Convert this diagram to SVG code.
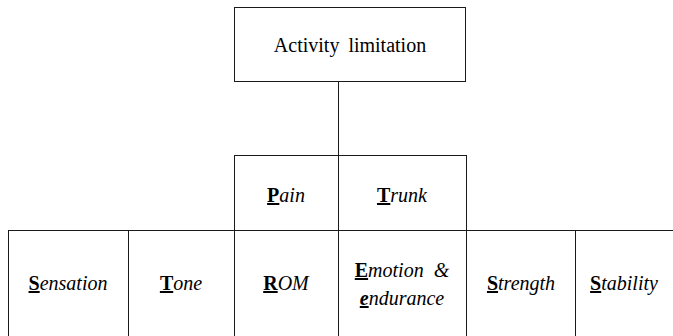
<svg xmlns="http://www.w3.org/2000/svg" width="673" height="336" viewBox="0 0 673 336">
<style>
rect{fill:#fff;stroke:#1a1a1a;stroke-width:1}
.c{stroke:#1a1a1a;stroke-width:1;fill:none}
</style>
<rect x="0" y="0" width="673" height="336" style="stroke:none;fill:#fff"/>
<g id="connectors">
<line class="c" x1="338.5" y1="81" x2="338.5" y2="155"/>
</g>
<g id="activity-limitation">
<rect x="234.5" y="7.5" width="231" height="74"/>
<text x="350" y="52" font-size="20" font-family="Liberation Serif" text-anchor="middle" word-spacing="4">Activity limitation</text>
</g>
<g id="pain">
<rect x="234.5" y="155.5" width="104" height="75"/>
<text x="286" y="202" font-size="20" font-family="Liberation Serif" text-anchor="middle"><tspan font-weight="bold" text-decoration="underline">P</tspan><tspan font-style="italic">ain</tspan></text>
</g>
<g id="trunk">
<rect x="338.5" y="155.5" width="128" height="75"/>
<text x="402" y="202" font-size="20" font-family="Liberation Serif" text-anchor="middle"><tspan font-weight="bold" text-decoration="underline">T</tspan><tspan font-style="italic">runk</tspan></text>
</g>
<g id="sensation">
<rect x="8.5" y="230.5" width="120" height="120"/>
<text x="68" y="290" font-size="20" font-family="Liberation Serif" text-anchor="middle"><tspan font-weight="bold" text-decoration="underline">S</tspan><tspan font-style="italic">ensation</tspan></text>
</g>
<g id="tone">
<rect x="128.5" y="230.5" width="106" height="120"/>
<text x="181" y="290" font-size="20" font-family="Liberation Serif" text-anchor="middle"><tspan font-weight="bold" text-decoration="underline">T</tspan><tspan font-style="italic">one</tspan></text>
</g>
<g id="rom">
<rect x="234.5" y="230.5" width="104" height="120"/>
<text x="286" y="290" font-size="20" font-family="Liberation Serif" text-anchor="middle"><tspan font-weight="bold" text-decoration="underline">R</tspan><tspan font-style="italic">OM</tspan></text>
</g>
<g id="emotion">
<rect x="338.5" y="230.5" width="128" height="120"/>
<text x="402" y="277" font-size="20" font-family="Liberation Serif" text-anchor="middle" word-spacing="5"><tspan font-weight="bold" text-decoration="underline">E</tspan><tspan font-style="italic">motion &amp;</tspan></text>
<text x="402" y="305" font-size="20" font-family="Liberation Serif" text-anchor="middle"><tspan font-weight="bold" font-style="italic" text-decoration="underline">e</tspan><tspan font-style="italic">ndurance</tspan></text>
</g>
<g id="strength">
<rect x="466.5" y="230.5" width="109" height="120"/>
<text x="521" y="290" font-size="20" font-family="Liberation Serif" text-anchor="middle"><tspan font-weight="bold" text-decoration="underline">S</tspan><tspan font-style="italic">trength</tspan></text>
</g>
<g id="stability">
<rect x="575.5" y="230.5" width="120" height="120"/>
<text x="624" y="290" font-size="20" font-family="Liberation Serif" text-anchor="middle"><tspan font-weight="bold" text-decoration="underline">S</tspan><tspan font-style="italic">tability</tspan></text>
</g>
</svg>
